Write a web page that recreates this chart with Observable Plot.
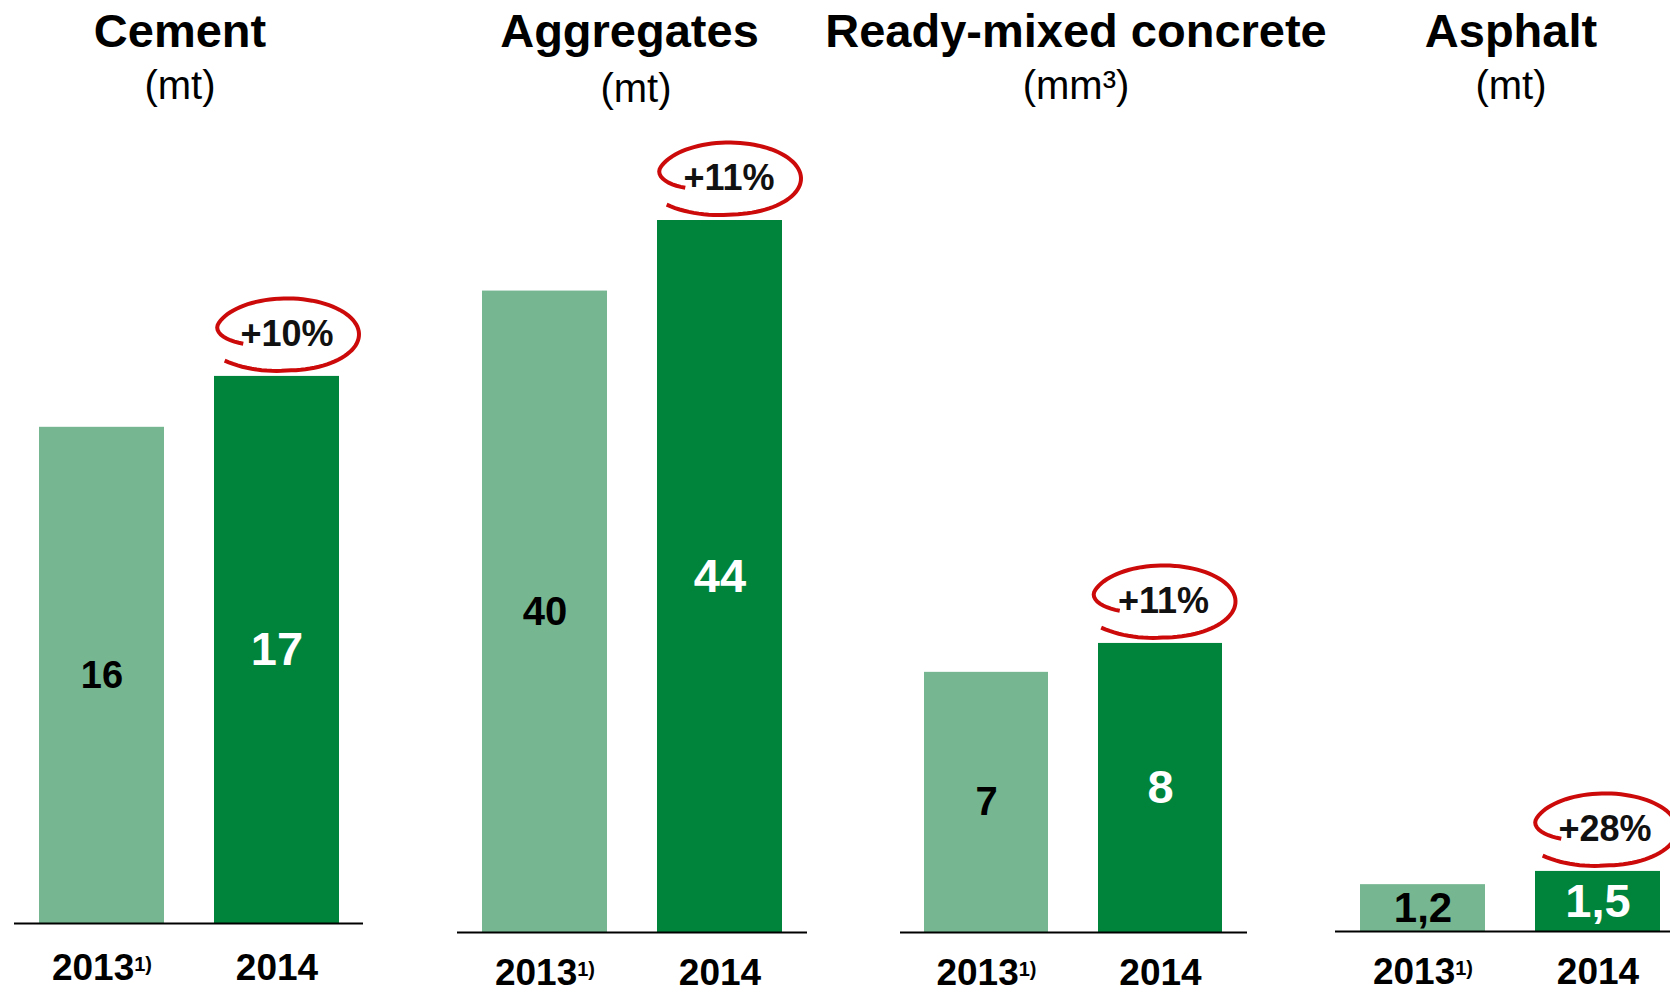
<!DOCTYPE html>
<html>
<head>
<meta charset="utf-8">
<script src="https://cdn.jsdelivr.net/npm/d3@7"></script>
<script src="https://cdn.jsdelivr.net/npm/@observablehq/plot@0.6"></script>
<style>
html, body { margin: 0; padding: 0; background: #fff; }
body { width: 1670px; height: 993px; overflow: hidden; position: relative; font-family: "Liberation Sans", Arial, sans-serif; }
.panel { position: absolute; top: 110px; }
.titles { position: absolute; left: 0; top: 0; }
</style>
</head>
<body>
<script>
// ---- data ----
const panelNames = ["Cement", "Aggregates", "Ready-mixed concrete", "Asphalt"];
const panelUnits = ["(mt)", "(mt)", "(mm³)", "(mt)"];
const years = ["2013", "2014"];
const yearNotes = ["1)", ""];
const values2013 = [15.6, 40.0, 7.2, 1.17];
const values2014 = [17.2, 44.4, 8.0, 1.50];
const valueLabels2013 = ["16", "40", "7", "1,2"];
const valueLabels2014 = ["17", "44", "8", "1,5"];
const changeLabels = ["+10%", "+11%", "+11%", "+28%"];

// ---- layout / style ----
const FONT = '"Liberation Sans", Arial, sans-serif';
const SVG_TOP = 110, PAGE_W = 1670, PAGE_H = 993;
const light = "#76B792", dark = "#00833B", red = "#CC0A0A";
const layout = [
  {left: 14,   width: 349, baseline: 923, yMax: 25.56, titleX: 180,   subX: 180,  subBase: 99,  valueFont: [38, 47], annotDx: 10, tickPad: 30},
  {left: 457,  width: 350, baseline: 932, yMax: 51.26, titleX: 629.5, subX: 636,  subBase: 102, valueFont: [40, 47], annotDx: 9,  tickPad: 26},
  {left: 900,  width: 347, baseline: 932, yMax: 22.75, titleX: 1076,  subX: 1076, subBase: 99,  valueFont: [40, 47], annotDx: 3,  tickPad: 26},
  {left: 1335, width: 349, baseline: 931, yMax: 20.5,  titleX: 1511,  subX: 1511, subBase: 99,  valueFont: [42, 47], annotDx: 7,  tickPad: 26}
];

// hand-drawn loop around the growth label (custom symbol shape)
const loopSymbol = {
  draw(ctx) {
    const rx = 72, ry = 36, a0 = 203, a1 = -140, n = 90;
    for (let i = 0; i <= n; i++) {
      const t = i / n;
      const a = (a0 + (a1 - a0) * t) * Math.PI / 180;
      let r = 1;
      if (t < 0.12) r = 0.66 + 0.34 * Math.sin((t / 0.12) * Math.PI / 2);
      if (t > 0.85) r = 1 + 0.13 * ((t - 0.85) / 0.15);
      const px = rx * r * Math.cos(a), py = -ry * r * Math.sin(a);
      if (i === 0) ctx.moveTo(px, py); else ctx.lineTo(px, py);
    }
  }
};

// titles
const tsvg = d3.create("svg").attr("class", "titles")
  .attr("width", PAGE_W).attr("height", SVG_TOP)
  .style("font-family", FONT);
layout.forEach((L, i) => {
  tsvg.append("text").attr("x", L.titleX).attr("y", 47).attr("text-anchor", "middle")
    .attr("font-size", 47).attr("font-weight", "bold").attr("fill", "#000").text(panelNames[i]);
  tsvg.append("text").attr("x", L.subX).attr("y", L.subBase).attr("text-anchor", "middle")
    .attr("font-size", 40).attr("fill", "#000").text(panelUnits[i]);
});
document.body.appendChild(tsvg.node());

// panels
layout.forEach((L, i) => {
  const data = years.map((year, j) => ({
    year,
    value: j ? values2014[i] : values2013[i],
    label: j ? valueLabels2014[i] : valueLabels2013[i]
  }));
  const last = [data[1]];
  const svg = Plot.plot({
    width: L.width,
    height: PAGE_H - SVG_TOP,
    marginTop: 0, marginLeft: 0, marginRight: 0,
    marginBottom: PAGE_H - L.baseline,
    x: {domain: years, paddingInner: 0.286, paddingOuter: 0.14, label: null},
    y: {domain: [0, L.yMax], axis: null},
    color: {domain: years, range: [light, dark]},
    style: {background: "transparent", fontFamily: FONT, overflow: "visible"},
    marks: [
      Plot.barY(data, {x: "year", y: "value", fill: "year"}),
      Plot.ruleY([0], {stroke: "#000", strokeWidth: 2}),
      Plot.axisX({tickSize: 0, tickPadding: L.tickPad, fontSize: 37, fontWeight: "bold", fill: "#000", label: null}),
      Plot.text([data[0]], {x: "year", y: d => d.value / 2, text: "label", fill: "#000", fontSize: L.valueFont[0], fontWeight: "bold"}),
      Plot.text([data[1]], {x: "year", y: d => d.value / 2, text: "label", fill: "#fff", fontSize: L.valueFont[1], fontWeight: "bold"}),
      Plot.dot(last, {x: "year", y: "value", symbol: loopSymbol, r: 1, dx: L.annotDx, dy: -42, stroke: red, strokeWidth: 4, fill: "none"}),
      Plot.text(last, {x: "year", y: "value", text: () => changeLabels[i], dx: L.annotDx, dy: -42, fontSize: 36, fontWeight: "bold", fill: "#111"})
    ]
  });
  d3.select(svg).selectAll('g[aria-label="x-axis tick label"] text').each(function () {
    const j = years.indexOf(this.textContent);
    if (j >= 0 && yearNotes[j]) {
      d3.select(this).append("tspan").attr("font-size", 20).attr("dy", -9).text(yearNotes[j]);
    }
  });
  const div = document.createElement("div");
  div.className = "panel";
  div.style.left = L.left + "px";
  div.style.width = L.width + "px";
  div.appendChild(svg);
  document.body.appendChild(div);
});
</script>
</body>
</html>
